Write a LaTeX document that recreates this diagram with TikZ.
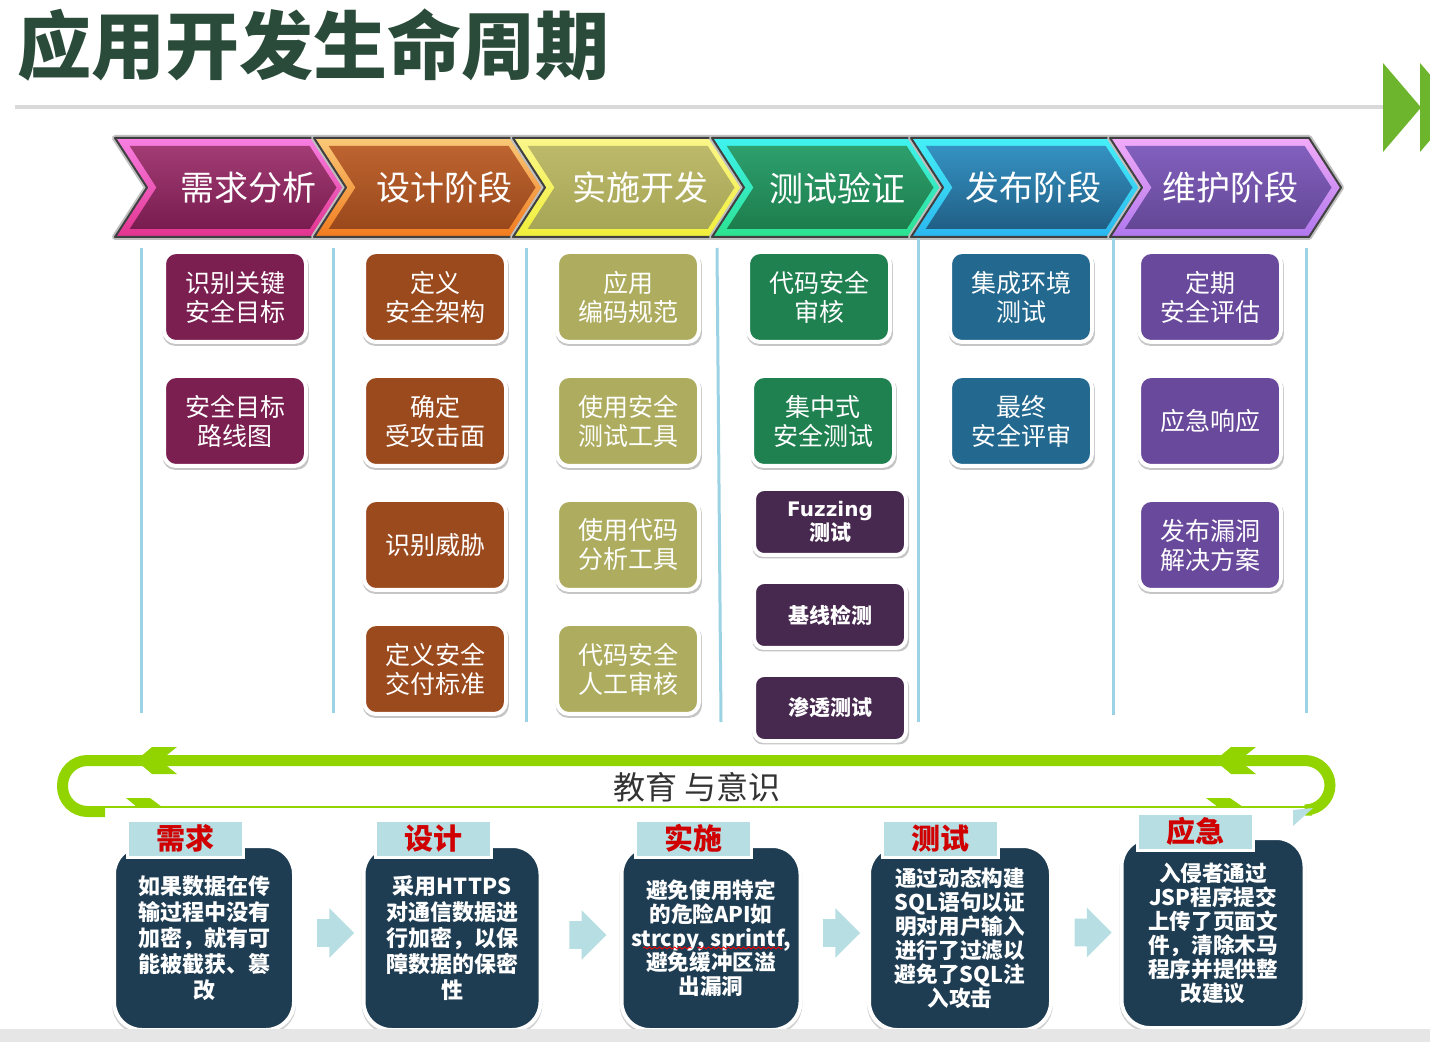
\documentclass[tikz,border=0pt]{standalone}
\usepackage{fontspec}
\setmainfont{Noto Sans CJK SC}
\newfontfamily\fuzzfont{DejaVu Sans}
\usepackage{xcolor}
\usepackage{tikz}
\usetikzlibrary{positioning,shadows,shapes.arrows,calc,decorations.pathmorphing}

\definecolor{titlegreen}{HTML}{2B4B3A}
\definecolor{rulegray}{HTML}{D9D9D9}
\definecolor{markgreen}{HTML}{6DB52C}
\definecolor{sepblue}{HTML}{9CD3E4}
\definecolor{reqmaroon}{HTML}{7B1F51}
\definecolor{desbrown}{HTML}{9B4A1E}
\definecolor{impolive}{HTML}{ADAC5F}
\definecolor{testgreen}{HTML}{1F8050}
\definecolor{relblue}{HTML}{23698F}
\definecolor{maintpurple}{HTML}{69499B}
\definecolor{testplum}{HTML}{47294F}
\definecolor{loopgreen}{HTML}{92D400}
\definecolor{tabteal}{HTML}{B7DFE3}
\definecolor{casenavy}{HTML}{1F3D52}
\definecolor{casered}{HTML}{D00000}
\definecolor{stripgray}{HTML}{E6E6E6}
\definecolor{c1o}{HTML}{F87FE3}\definecolor{c1p}{HTML}{E2338E}\definecolor{c1i}{HTML}{A23C74}\definecolor{c1j}{HTML}{781C4F}
\definecolor{c2o}{HTML}{F9C877}\definecolor{c2p}{HTML}{F27B1F}\definecolor{c2i}{HTML}{BD6430}\definecolor{c2j}{HTML}{9A481C}
\definecolor{c3o}{HTML}{FAF68A}\definecolor{c3p}{HTML}{F1EF3A}\definecolor{c3i}{HTML}{BDB96A}\definecolor{c3j}{HTML}{A6A656}
\definecolor{c4o}{HTML}{3FF2F0}\definecolor{c4p}{HTML}{2CE28E}\definecolor{c4i}{HTML}{2E9F6E}\definecolor{c4j}{HTML}{1D7D4C}
\definecolor{c5o}{HTML}{45F0F7}\definecolor{c5p}{HTML}{2AB6EF}\definecolor{c5i}{HTML}{3592C2}\definecolor{c5j}{HTML}{205F86}
\definecolor{c6o}{HTML}{F2ABF8}\definecolor{c6p}{HTML}{B077EE}\definecolor{c6i}{HTML}{8260BE}\definecolor{c6j}{HTML}{634795}

\begin{document}
\begin{tikzpicture}[x=0.5pt,y=-0.5pt,
  taskbox/.style={rounded corners=6pt,draw=white,line width=2pt,text=white,align=center,
    minimum width=71pt,minimum height=45pt,inner sep=0pt,font=\fontsize{12.5}{14.5}\selectfont,
    drop shadow={opacity=0.45,shadow scale=1.03,shadow xshift=0.4pt,shadow yshift=-1.2pt}},
  testbox/.style={taskbox,fill=testplum,minimum width=76pt,minimum height=33pt,rounded corners=5pt,
    font=\bfseries\fontsize{10.5}{12}\selectfont},
  casebox/.style={rounded corners=14pt,fill=casenavy,draw=white,line width=2pt,text=white,align=center,
    inner sep=0pt,minimum width=90pt,minimum height=92pt,font=\bfseries\fontsize{11}{13}\selectfont,
    drop shadow={opacity=0.35,shadow scale=1.02,shadow xshift=0pt,shadow yshift=-1pt}},
  casetab/.style={fill=tabteal,draw=white,line width=1.5pt,minimum width=58pt,minimum height=18.5pt,
    inner sep=0pt,text=casered,font=\bfseries\fontsize{14.5}{16}\selectfont},
  flowarrow/.style={single arrow,fill=tabteal,minimum height=18.5pt,inner xsep=0pt,inner ysep=6.75pt,
    single arrow head extend=5.5pt},
  sepline/.style={sepblue,line width=1.5pt},
  loopline/.style={loopgreen,line width=5.5pt,rounded corners=12.5pt}]
\useasboundingbox (0,0) rectangle (1430,1042);
\fill[white] (0,0) rectangle (1430,1042);

\node[anchor=west,inner sep=0pt,text=titlegreen,font=\bfseries\fontsize{37}{40}\selectfont] (title) at (17,45) {应用开发生命周期};
\draw[rulegray,line width=2pt] (15,107) -- (1383,107);
\fill[markgreen] (1383,63) -- (1421,107.5) -- (1383,152) -- cycle;
\fill[markgreen] (1420,63) -- (1458,107.5) -- (1420,152) -- cycle;

\foreach \i/\ca/\cb/\cc/\cd/\txt in {0/c1o/c1p/c1i/c1j/需求分析,1/c2o/c2p/c2i/c2j/设计阶段,
    2/c3o/c3p/c3i/c3j/实施开发,3/c4o/c4p/c4i/c4j/测试验证,4/c5o/c5p/c5i/c5j/发布阶段,5/c6o/c6p/c6i/c6j/维护阶段}{
  \pgfmathsetmacro\L{115+199*\i}
  \pgfmathsetmacro\T{\L+133-2.6*\i}
  \draw[black!25,line width=3pt,line join=round] (\L,138) -- ++(199,0) -- ++(32,49.5) -- ++(-32,49.5) -- ++(-199,0) -- ++(32,-49.5) -- cycle;
  \shade[top color=\ca,bottom color=\cb,draw=black!75,line width=1pt,line join=round] (\L,138) -- ++(199,0) -- ++(32,49.5) -- ++(-32,49.5) -- ++(-199,0) -- ++(32,-49.5) -- cycle;
  \shade[top color=\cc,bottom color=\cd] (\L+14.7,146) -- (\L+194.7,146) -- (\L+221.5,187.5) -- (\L+194.7,229) -- (\L+14.7,229) -- (\L+41.5,187.5) -- cycle;
  \node[text=white,font=\fontsize{17}{20}\selectfont] (stage\i) at (\T,188) {\txt};
}

\draw[sepline] (141,248) -- (141,713);
\draw[sepline] (333,248) -- (333,713);
\draw[sepline] (526,248) -- (526,722);
\draw[sepline] (717,248) -- (721,722);
\draw[sepline] (918,238) -- (918,722);
\draw[sepline] (1113,238) -- (1113,715);
\draw[sepline] (1306,248) -- (1306,713);

\node[taskbox,fill=reqmaroon] (req1) at (235,297) {识别关键\\安全目标};
\node[taskbox,fill=reqmaroon] (req2) at (235,421) {安全目标\\路线图};
\node[taskbox,fill=desbrown] (des1) at (435,297) {定义\\安全架构};
\node[taskbox,fill=desbrown] (des2) at (435,421) {确定\\受攻击面};
\node[taskbox,fill=desbrown] (des3) at (435,545) {识别威胁};
\node[taskbox,fill=desbrown] (des4) at (435,669) {定义安全\\交付标准};
\node[taskbox,fill=impolive] (imp1) at (628,297) {应用\\编码规范};
\node[taskbox,fill=impolive] (imp2) at (628,421) {使用安全\\测试工具};
\node[taskbox,fill=impolive] (imp3) at (628,545) {使用代码\\分析工具};
\node[taskbox,fill=impolive] (imp4) at (628,669) {代码安全\\人工审核};
\node[taskbox,fill=testgreen] (tst1) at (819,297) {代码安全\\审核};
\node[taskbox,fill=testgreen] (tst2) at (823,421) {集中式\\安全测试};
\node[testbox] (tst3) at (830,522) {{\fuzzfont\bfseries\fontsize{10}{12}\selectfont Fuzzing}\\测试};
\node[testbox] (tst4) at (830,615) {基线检测};
\node[testbox] (tst5) at (830,708) {渗透测试};
\node[taskbox,fill=relblue] (rel1) at (1021,297) {集成环境\\测试};
\node[taskbox,fill=relblue] (rel2) at (1021,421) {最终\\安全评审};
\node[taskbox,fill=maintpurple] (mnt1) at (1210,297) {定期\\安全评估};
\node[taskbox,fill=maintpurple] (mnt2) at (1210,421) {应急响应};
\node[taskbox,fill=maintpurple] (mnt3) at (1210,545) {发布漏洞\\解决方案};

\draw[loopline] (105,811.5) -- (62.5,811.5) -- (62.5,760.5) -- (1330,760.5) -- (1330,810) -- (1312,810);
\draw[loopgreen,line width=1pt] (105,807) -- (1315,807);
\fill[loopgreen] (136,760.5) -- (152,747) -- (177,747) -- (160,760.5) -- (177,774) -- (152,774) -- cycle;
\fill[loopgreen] (1215,760.5) -- (1231,747) -- (1256,747) -- (1239,760.5) -- (1256,774) -- (1231,774) -- cycle;
\fill[loopgreen] (126,798) -- (150,798) -- (162,807) -- (137,807) -- cycle;
\fill[loopgreen] (1206,798) -- (1230,798) -- (1243,807) -- (1218,807) -- cycle;
\fill[tabteal] (1293,826) -- (1293,810) -- (1313,808) -- cycle;
\node[text=black!80,font=\fontsize{16}{18}\selectfont] (edu) at (697,787) {教育 与意识};

\node[casebox] (need) at (204,938) {如果数据在传\\输过程中没有\\加密，就有可\\能被截获、篡\\改};
\node[casebox,minimum width=88.5pt] (design) at (452,938) {采用HTTPS\\对通信数据进\\行加密，以保\\障数据的保密\\性};
\node[casebox,minimum width=89.5pt,font=\bfseries\fontsize{10.8}{12}\selectfont] (impl) at (711,938) {避免使用特定\\的危险API如\\strcpy, sprintf,\\避免缓冲区溢\\出漏洞};
\node[casebox,minimum width=91pt,font=\bfseries\fontsize{10.8}{12}\selectfont] (test) at (960,938) {通过动态构建\\SQL语句以证\\明对用户输入\\进行了过滤以\\避免了SQL注\\入攻击};
\node[casebox,minimum width=91.5pt,minimum height=95pt,font=\bfseries\fontsize{10.8}{12}\selectfont] (resp) at (1213,933) {入侵者通过\\JSP程序提交\\上传了页面文\\件，清除木马\\程序并提供整\\改建议};
\draw[red,decorate,decoration={snake,amplitude=0.5pt,segment length=2.5pt}] ($(impl.center)+(-68,10)$) -- ++(49,0);
\draw[red,decorate,decoration={snake,amplitude=0.5pt,segment length=2.5pt}] ($(impl.center)+(-14,10)$) -- ++(86,0);

\node[casetab] (needtab) at (185,838.5) {需求};
\node[casetab] (designtab) at (433,838.5) {设计};
\node[casetab] (impltab) at (693,838.5) {实施};
\node[casetab] (testtab) at (940,838.5) {测试};
\node[casetab] (resptab) at (1195,831.5) {应急};

\node[flowarrow] (go1) at ($(need.east)!0.5!(design.west)+(0,-5)$) {};
\node[flowarrow] (go2) at ($(design.east)!0.5!(impl.west)+(0,-3)$) {};
\node[flowarrow] (go3) at ($(impl.east)!0.5!(test.west)+(0,-5)$) {};
\node[flowarrow] (go4) at ($(test.east)!0.5!(resp.west)+(0,-3)$) {};

\fill[stripgray] (0,1029) rectangle (1430,1042);
\end{tikzpicture}
\end{document}
